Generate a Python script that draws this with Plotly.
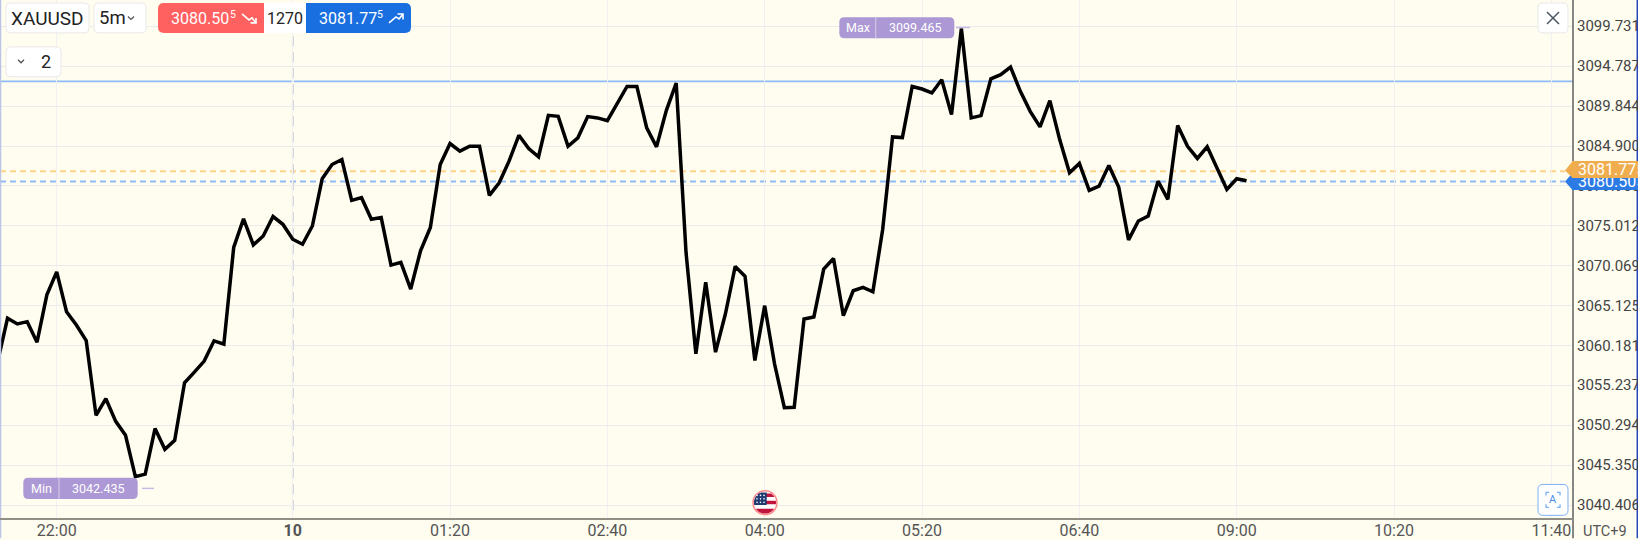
#!/usr/bin/env python3
import math
import plotly.graph_objects as go

# close prices, one per 5m bar
closes = [
    3058.20, 3063.56, 3062.86, 3063.14, 3060.60, 3066.47, 3069.31, 3064.37, 3062.73, 3060.79,
    3051.53, 3053.59, 3050.79, 3049.06, 3043.93, 3044.25, 3049.89, 3047.33, 3048.44, 3055.57,
    3056.89, 3058.25, 3060.76, 3060.35, 3072.33, 3075.88, 3072.65, 3073.76, 3076.16, 3075.20,
    3073.35, 3072.73, 3074.99, 3080.85, 3082.61, 3083.23, 3078.17, 3078.50, 3075.82, 3076.03,
    3070.14, 3070.48, 3067.18, 3071.91, 3074.80, 3082.61, 3085.21, 3084.26, 3084.87, 3084.87,
    3078.79, 3080.35, 3083.02, 3086.23, 3084.59, 3083.57, 3088.70, 3088.58, 3084.87, 3085.91,
    3088.54, 3088.38, 3088.05, 3090.23, 3092.28, 3092.28, 3087.15, 3084.80, 3089.32, 3092.70,
    3071.71, 3059.15, 3068.01, 3059.36, 3064.09, 3069.98, 3068.75, 3058.32, 3065.12, 3057.92,
    3052.48, 3052.52, 3063.47, 3063.72, 3069.65, 3070.97, 3063.88, 3066.97, 3067.39, 3066.84,
    3074.59, 3086.03, 3085.95, 3092.28, 3091.96, 3091.47, 3093.11, 3088.79, 3099.46, 3088.38,
    3088.67, 3093.23, 3093.73, 3094.68, 3091.67, 3089.20, 3087.27, 3090.52, 3085.70, 3081.59,
    3082.74, 3079.40, 3079.93, 3082.49, 3079.81, 3073.27, 3075.61, 3076.23, 3080.55, 3078.29,
    3087.43, 3084.87, 3083.36, 3084.80, 3082.21, 3079.53, 3080.85, 3080.60,
]

time_ticks = [6, 30, 46, 62, 78, 94, 110, 126, 142, 158]
time_labels = ["22:00", "<b>10</b>", "01:20", "02:40", "04:00", "05:20", "06:40", "09:00", "10:20", "11:40"]

price_ticks = [3099.731, 3094.787, 3089.844, 3084.900, 3079.956, 3075.012, 3070.069,
               3065.125, 3060.181, 3055.237, 3050.294, 3045.350, 3040.406]

bid = 3080.505
ask = 3081.775
level = 3092.90
max_price = 3099.465
min_price = 3042.435

W, H = 1638, 540
PLOT_W, PLOT_H = 1573, 520.7
BG = "#fffdf0"
FONT = "Roboto"
PURPLE = "#ac98d4"
shapes = []
notes = []


def px(x):
    return x / PLOT_W


def py(y):
    return 1 - y / PLOT_H


def pt(x, y):
    return f"{px(x):.5f},{py(y):.5f}"


def round_rect(x0, y0, x1, y1, fill, border=None, r=(5, 5, 5, 5), width=1):
    tl, tr, br, bl = r
    path = (f"M{pt(x0 + tl, y0)} L{pt(x1 - tr, y0)} Q{pt(x1, y0)} {pt(x1, y0 + tr)} "
            f"L{pt(x1, y1 - br)} Q{pt(x1, y1)} {pt(x1 - br, y1)} "
            f"L{pt(x0 + bl, y1)} Q{pt(x0, y1)} {pt(x0, y1 - bl)} "
            f"L{pt(x0, y0 + tl)} Q{pt(x0, y0)} {pt(x0 + tl, y0)} Z")
    shapes.append(dict(type="path", path=path, xref="paper", yref="paper", fillcolor=fill,
                       line=dict(color=border or fill, width=width if border else 0)))


def polyline(points, color, width=1.5, closed=False, fill=None):
    path = "M" + " L".join(pt(x, y) for x, y in points) + (" Z" if closed else "")
    s = dict(type="path", path=path, xref="paper", yref="paper", line=dict(color=color, width=width))
    if fill:
        s["fillcolor"] = fill
    shapes.append(s)


def label(x, y, text, size=15, color="#222222", anchor="center"):
    notes.append(dict(x=px(x), y=py(y), xref="paper", yref="paper", text=text, showarrow=False,
                      xanchor=anchor, yanchor="middle", borderpad=0,
                      font=dict(family=FONT, size=size, color=color)))


def caret(x, y, color="#555555"):
    polyline([(x - 3, y - 1.5), (x, y + 1.5), (x + 3, y - 1.5)], color, 1.3)


def circle(cx, cy, r, fill, border=None, width=1):
    shapes.append(dict(type="circle", xref="paper", yref="paper", x0=px(cx - r), x1=px(cx + r),
                       y0=py(cy + r), y1=py(cy - r), fillcolor=fill,
                       line=dict(color=border or fill, width=width if border else 0)))


def price_tag(y0, y1, tip_y, fill, text):
    # body is an annotation box so it hides the axis labels drawn before it
    polyline([(1565, tip_y), (1572.5, y0), (1572.5, y1)], fill, 0, True, fill)
    notes.append(dict(x=px(1572), y=py((y0 + y1) / 2), xref="paper", yref="paper", text="\u00a0", showarrow=False,
                      xanchor="left", yanchor="middle", width=66, height=y1 - y0, borderpad=0, borderwidth=0,
                      bgcolor=fill, font=dict(family=FONT, size=10, color=fill)))
    label(1576.5, (y0 + y1) / 2, text, 16, "#ffffff", "left")


def minmax_tag(x0, x1, xdiv, y0, y1, name, value):
    round_rect(x0, y0, x1, y1, PURPLE, r=(5, 5, 5, 5))
    polyline([(xdiv, y0), (xdiv, y1)], "#d8cdea", 1)
    label((x0 + xdiv) / 2, (y0 + y1) / 2, name, 12.5, "#ffffff")
    label((xdiv + x1) / 2, (y0 + y1) / 2, value, 12.5, "#ffffff")


fig = go.Figure()
fig.add_trace(go.Scatter(x=list(range(len(closes))), y=closes, mode="lines", hoverinfo="skip",
                         line=dict(color="#000000", width=3.5, shape="linear")))

# price levels, over the grid and under the line
for value, color, dash in [(level, "#8fbcf5", "solid"), (ask, "#ffd28c", "6px,4px"), (bid, "#8fbcf5", "6px,4px")]:
    shapes.append(dict(type="line", xref="paper", yref="y", x0=0, x1=1 if dash == "solid" else px(1565),
                       y0=value, y1=value, layer="between", line=dict(color=color, width=1.8, dash=dash)))

# day separator
shapes.append(dict(type="line", xref="x", yref="paper", x0=time_ticks[1], x1=time_ticks[1], y0=py(512), y1=1,
                   layer="between", line=dict(color=BG, width=2)))
shapes.append(dict(type="line", xref="x", yref="paper", x0=time_ticks[1], x1=time_ticks[1], y0=py(512), y1=1,
                   layer="between", line=dict(color="#9aa1b8", width=1.5, dash="10px,6px")))

# borders
polyline([(0.5, 0), (0.5, 540)], "#b9c4e8", 1.5)
polyline([(1637.3, 0), (1637.3, 540)], "#2244bb", 1.5)
polyline([(1573, 0), (1573, 540)], "#5f5f5f", 1.5)
polyline([(0, 520.7), (1573, 520.7)], "#8f8f85", 2)

# header buttons
round_rect(6, 3, 89, 33, "#ffffff", "#e8e8e8")
label(47.5, 18.5, "XAUUSD", 19)
round_rect(94, 3, 146, 33, "#ffffff", "#e8e8e8")
label(112, 18.5, "5m", 18.5)
caret(131, 18)
round_rect(6, 47, 61, 77, "#ffffff", "#e8e8e8")
caret(21, 61.5)
label(46, 61.5, "2", 18)

round_rect(158, 3, 264, 33, "#ff6060", r=(6, 0, 0, 6))
label(170, 18.5, "3080.50", 16, "#ffffff", "left")
label(233, 14.5, "5", 10.5, "#ffffff")
polyline([(242, 14), (249, 20), (252, 18), (256, 23)], "#ffffff", 1.6)
polyline([(250.5, 23), (256, 23), (256, 18)], "#ffffff", 1.6)
round_rect(264, 3, 306, 33, "#ffffff", r=(0, 0, 0, 0))
label(285, 18.5, "1270", 16)
round_rect(306, 3, 411, 33, "#1a6fe0", r=(0, 6, 6, 0))
label(318, 18.5, "3081.77", 16, "#ffffff", "left")
label(380, 14.5, "5", 10.5, "#ffffff")
polyline([(389, 23), (396, 17), (399, 19), (403, 14)], "#ffffff", 1.6)
polyline([(397.5, 14), (403, 14), (403, 19.5)], "#ffffff", 1.6)

# close button
round_rect(1538, 3, 1568, 33, "#ffffff", "#e8e8e8")
polyline([(1547, 12), (1559, 24)], "#4a5260", 1.5)
polyline([(1559, 12), (1547, 24)], "#4a5260", 1.5)

# auto scale button
round_rect(1538, 486, 1568, 517, "#ffffff", "#7db0f5")
for xa, xb, ya, yb in [(1546, 1549, 497, 494), (1560, 1557, 497, 494), (1546, 1549, 506, 509), (1560, 1557, 506, 509)]:
    polyline([(xa, ya), (xa, yb), (xb, yb)], "#7db0f5", 1.3)
label(1553, 501.5, "A", 11, "#4a8fe8")

# min and max tags
minmax_tag(839.3, 954.3, 875.7, 17.3, 38.3, "Max", f"{max_price:.3f}")
polyline([(956, 27.6), (970, 27.6)], "#c8b8e4", 1.5)
minmax_tag(23.3, 137.7, 59, 479.3, 500.7, "Min", f"{min_price:.3f}")
polyline([(142, 490), (154, 490)], "#c8b8e4", 1.5)

# price axis labels, as annotations since they run past the right edge
for value in price_ticks:
    notes.append(dict(x=px(1576), y=value, xref="paper", yref="y", text=f"{value:.3f}", showarrow=False,
                      xanchor="left", yanchor="middle", borderpad=0,
                      font=dict(family=FONT, size=15, color="#444444")))

# current price tags, orange sits on top of blue
price_tag(173.5, 190.7, 182, "#2c7be5", f"{bid:.3f}")
price_tag(161.7, 178.3, 171, "#f0ad4e", f"{ask:.3f}")


def band(y0, y1, xmax=None, cx=765, cy=504.3, r=11):
    # slice of the flag disc between two heights
    pts = []
    for i in range(9):
        y = y0 + (y1 - y0) * i / 8
        pts.append((cx - math.sqrt(max(r * r - (y - cy) ** 2, 0)), y))
    right = []
    for i in range(9):
        y = y1 - (y1 - y0) * i / 8
        x = cx + math.sqrt(max(r * r - (y - cy) ** 2, 0))
        right.append((min(x, xmax) if xmax else x, y))
    return pts + right


# news flag
circle(765, 504.3, 12, "#ffffff", "#ff8a8a", 1.5)
for y0, y1 in [(495, 498.5), (502.3, 506), (510.5, 515.2)]:
    polyline(band(y0, y1), "#c0143c", 0, True, "#c0143c")
polyline(band(494, 506.7, 766.7), "#1f3a70", 0, True, "#1f3a70")
for gx in (757, 760.5, 764):
    for gy in (497, 500.5, 504):
        circle(gx, gy, 0.8, "#ffffff")

# time zone caption
label(1605, 533, "UTC+9", 14.5, "#555555")

fig.update_layout(
    width=W, height=H, showlegend=False,
    margin=dict(l=0, r=W - PLOT_W, t=0, b=H - PLOT_H, pad=0),
    paper_bgcolor=BG, plot_bgcolor=BG,
    font=dict(family=FONT, color="#555555"),
    shapes=shapes, annotations=notes,
)
fig.update_xaxes(range=[0.234, 160.2], tickmode="array", tickvals=time_ticks, ticktext=time_labels,
                 showgrid=True, gridcolor="#f1f1f2", gridwidth=1, zeroline=False, showline=False,
                 ticks="", tickfont=dict(family=FONT, size=16, color="#555555"), tickangle=0)
fig.update_yaxes(range=[3038.69, 3102.99], side="right", tickmode="array", tickvals=price_ticks,
                 showticklabels=False, showgrid=True, gridcolor="#ebebee", gridwidth=1, zeroline=False,
                 showline=False, ticks="")

page_js = "document.body.style.margin='0';document.body.style.background='" + BG + "';"
fig.write_html("out.html", config=dict(displayModeBar=False), post_script=page_js)
